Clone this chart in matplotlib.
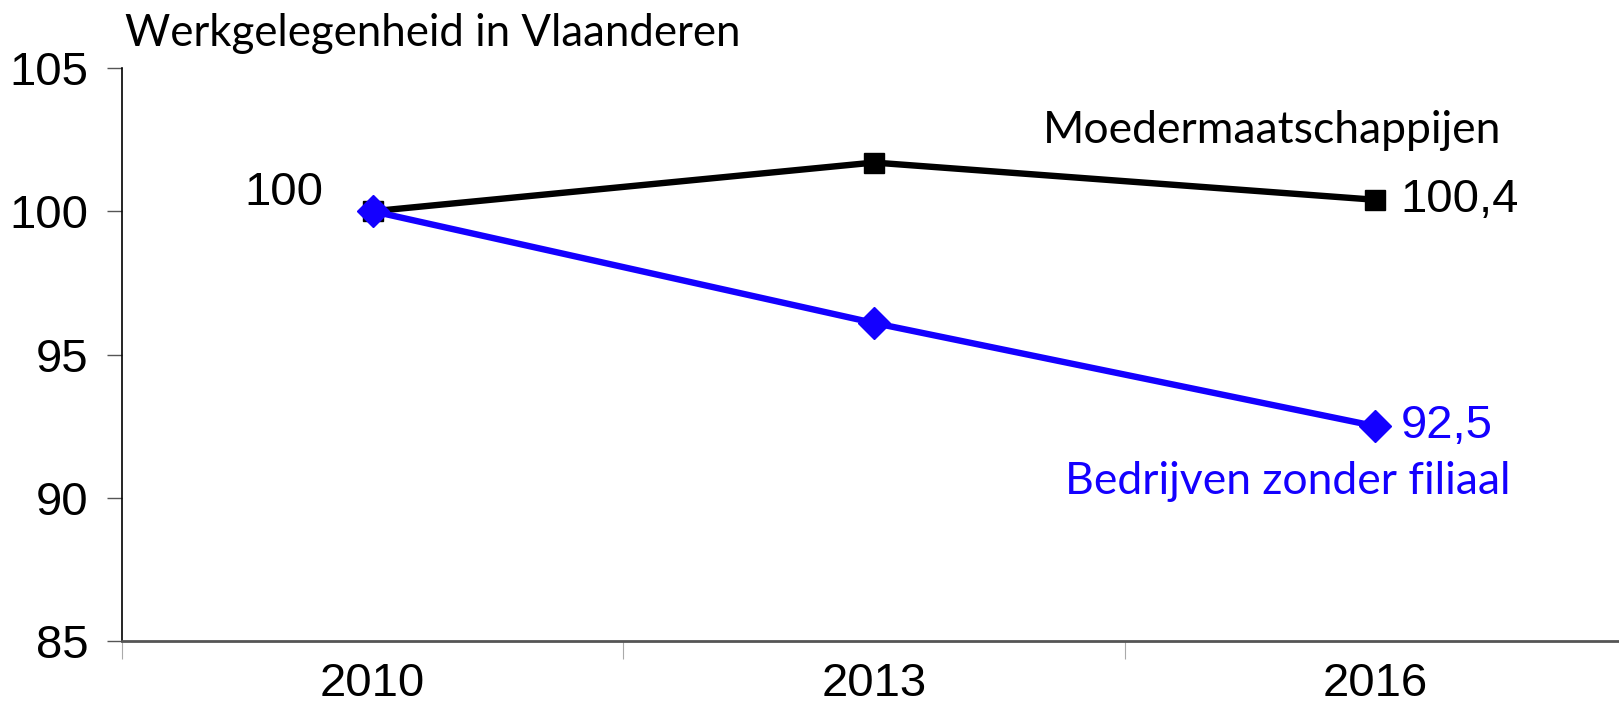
import numpy as np
import matplotlib
matplotlib.use("Agg")
import matplotlib.pyplot as plt
from matplotlib.ticker import FixedLocator


# -----------------------------
# Data
# -----------------------------
years = ["2010", "2013", "2016"]
moeder = [100.0, 101.7, 100.4]
zonder_filiaal = [100.0, 96.1, 92.5]
y_ticks = [85, 90, 95, 100, 105]

TITLE = "Werkgelegenheid in Vlaanderen"
BLUE = "#1400ff"
NUM_FONT = "Liberation Sans"
NUM_SIZE = 34
TXT_FONT = "Lato"
TXT_SIZE = 32


# -----------------------------
# Figure
# -----------------------------
fig = plt.figure(figsize=(16.19, 7.12), dpi=100)
ax = fig.add_axes([0.0754, 0.0997, 0.9246, 0.8048])

x = np.arange(len(years))

ax.plot(x, moeder, color="black", lw=4.6, marker="s", markersize=14,
        markerfacecolor="black", markeredgecolor="black", zorder=3,
        clip_on=False)
ax.plot(x, zonder_filiaal, color=BLUE, lw=4.6, marker="D", markersize=16,
        markerfacecolor=BLUE, markeredgecolor=BLUE, zorder=4,
        clip_on=False)

ax.set_xlim(-0.5, 2.486)
ax.set_ylim(85, 105)

# axes styling
for side in ["top", "right"]:
    ax.spines[side].set_visible(False)
ax.spines["left"].set_color("black")
ax.spines["left"].set_linewidth(1.2)
ax.spines["bottom"].set_color("#555555")
ax.spines["bottom"].set_linewidth(2.0)

ax.set_yticks(y_ticks)
ax.set_yticklabels([str(v) for v in y_ticks], fontfamily=NUM_FONT,
                   fontsize=NUM_SIZE)
ax.tick_params(axis="y", direction="out", length=11, width=1.0,
               color="#555555", pad=13)

ax.set_xticks(x)
ax.set_xticklabels(years, fontfamily=NUM_FONT, fontsize=NUM_SIZE)
ax.tick_params(axis="x", which="major", length=0, pad=15)
ax.xaxis.set_minor_locator(FixedLocator([-0.5, 0.5, 1.5]))
ax.tick_params(axis="x", which="minor", direction="out", length=13,
               width=0.8, color="#aaaaaa")

# title
fig.text(0.077, 0.935, TITLE, fontfamily=TXT_FONT, fontsize=31.5,
         ha="left", va="baseline")

# -----------------------------
# Labels
# -----------------------------
ax.annotate("100", (x[0], moeder[0]), xytext=(-64, 13),
            textcoords="offset points", ha="center", va="center",
            fontfamily=NUM_FONT, fontsize=NUM_SIZE)
ax.annotate("100,4", (x[2], moeder[2]), xytext=(18, 0),
            textcoords="offset points", ha="left", va="center",
            fontfamily=NUM_FONT, fontsize=NUM_SIZE)
ax.annotate("92,5", (x[2], zonder_filiaal[2]), xytext=(18, 0),
            textcoords="offset points", ha="left", va="center",
            fontfamily=NUM_FONT, fontsize=NUM_SIZE, color=BLUE)

ax.annotate("Moedermaatschappijen", (x[2], moeder[2]), xytext=(91, 50),
            textcoords="offset points", ha="right", va="center",
            fontfamily=TXT_FONT, fontsize=TXT_SIZE)
ax.annotate("Bedrijven zonder filiaal", (x[2], zonder_filiaal[2]),
            xytext=(97, -40), textcoords="offset points", ha="right",
            va="center", fontfamily=TXT_FONT, fontsize=TXT_SIZE, color=BLUE)

fig.savefig("out.png", dpi=100)
